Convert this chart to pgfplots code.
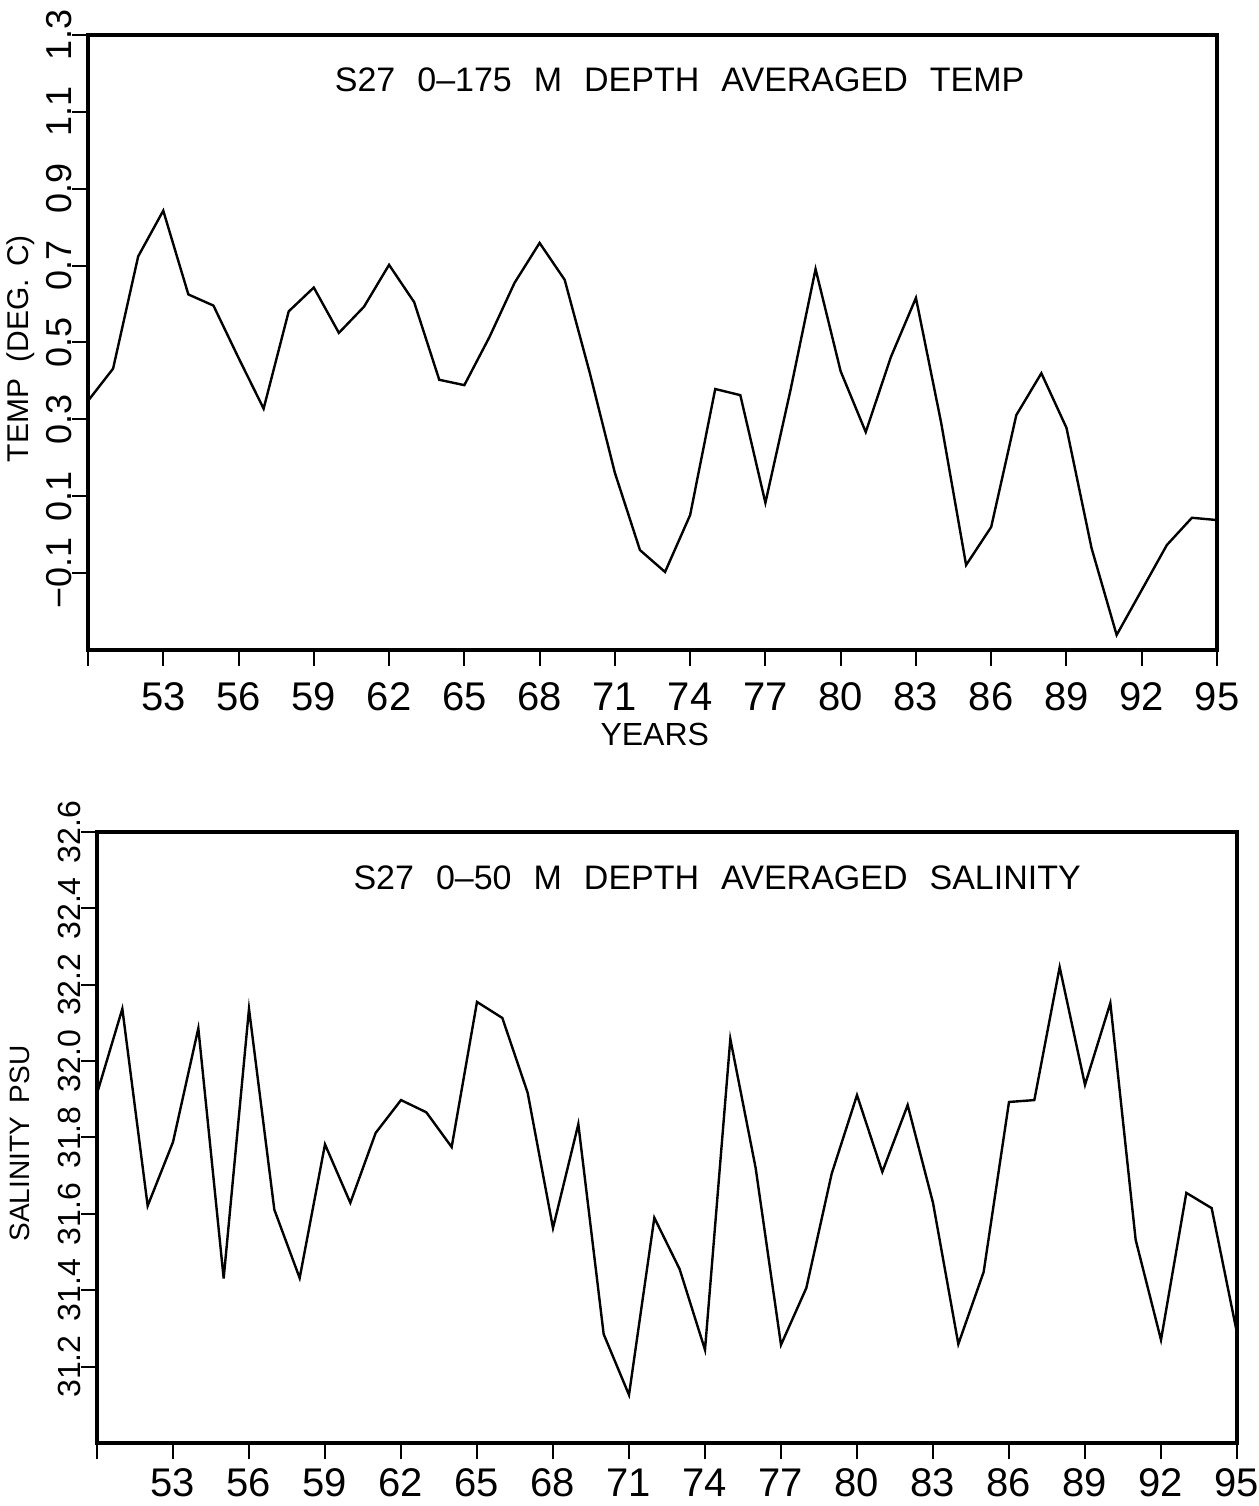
\documentclass[border=0pt]{standalone}
\usepackage{fontspec}
\setmainfont{Liberation Sans}
\usepackage{pgfplots}
\pgfplotsset{compat=1.18}

\pgfplotstableread{
year temp
50 0.348
51 0.432
52 0.724
53 0.843
54 0.625
55 0.596
56 0.46
57 0.328
58 0.581
59 0.643
60 0.525
61 0.593
62 0.702
63 0.605
64 0.403
65 0.389
66 0.514
67 0.655
68 0.759
69 0.663
70 0.421
71 0.161
72 -0.04
73 -0.097
74 0.051
75 0.379
76 0.363
77 0.083
78 0.376
79 0.691
80 0.425
81 0.267
82 0.462
83 0.616
84 0.293
85 -0.079
86 0.02
87 0.311
88 0.42
89 0.278
90 -0.035
91 -0.261
92 -0.144
93 -0.027
94 0.044
95 0.038
}\temptable

\pgfplotstableread{
year sal
50 31.915
51 32.137
52 31.621
53 31.788
54 32.086
55 31.431
56 32.137
57 31.611
58 31.432
59 31.782
60 31.629
61 31.812
62 31.898
63 31.866
64 31.775
65 32.155
66 32.113
67 31.917
68 31.563
69 31.835
70 31.285
71 31.126
72 31.59
73 31.455
74 31.244
75 32.058
76 31.72
77 31.257
78 31.406
79 31.705
80 31.911
81 31.71
82 31.885
83 31.629
84 31.259
85 31.448
86 31.893
87 31.898
88 32.246
89 31.938
90 32.152
91 31.532
92 31.27
93 31.655
94 31.615
95 31.288
}\saltable

\newcommand{\gap}{\hspace*{11pt}}

\pgfplotsset{
  mystyle/.style={
    scale only axis,
    xmin=50, xmax=95,
    xtick={50,53,56,59,62,65,68,71,74,77,80,83,86,89,92,95},
    xticklabels={,53,56,59,62,65,68,71,74,77,80,83,86,89,92,95},
    tick align=outside, xtick pos=bottom, ytick pos=left,
    major tick length=8pt,
    axis line style={line width=1.7pt},
    every tick/.style={line width=1pt, black},
    xticklabel style={font=\fontsize{20}{24}\selectfont, anchor=center},
    clip=false,
  }
}

\begin{document}
\begin{tikzpicture}[x=1pt,y=1pt]
\path[use as bounding box] (0,0) rectangle (629.5,753);

\begin{axis}[
  mystyle,
  at={(44pt,428pt)}, anchor=south west,
  width=564.5pt, height=307.5pt,
  ymin=-0.3, ymax=1.3,
  ytick={-0.1,0.1,0.3,0.5,0.7,0.9,1.1,1.3},
  yticklabels={−0.1,0.1,0.3,0.5,0.7,0.9,1.1,1.3},
  yticklabel style={font=\fontsize{18}{21}\selectfont, xshift=-6.5pt, rotate=90, anchor=center},
  xticklabel style={yshift=-15.5pt},
  xlabel={YEARS},
  xlabel style={at={(axis description cs:0.502,-0.138)}, anchor=center, font=\fontsize{16}{19}\selectfont},
  ylabel={TEMP\hspace*{4pt} (DEG.\hspace*{2pt} C)},
  ylabel style={at={(axis description cs:-0.060,0.49)}, anchor=center, rotate=0, font=\fontsize{15}{18}\selectfont},
  title={S27\gap 0–175\gap M\gap DEPTH\gap AVERAGED\gap TEMP},
  title style={at={(axis description cs:0.524,0.907)}, anchor=center, font=\fontsize{17}{20}\selectfont},
]
\addplot[black, line width=1.2pt, mark=none] table[x=year, y=temp] {\temptable};
\end{axis}

\begin{axis}[
  mystyle,
  at={(48.5pt,31.5pt)}, anchor=south west,
  width=570pt, height=305.5pt,
  ymin=31.0, ymax=32.6,
  ytick={31.2,31.4,31.6,31.8,32.0,32.2,32.4,32.6},
  yticklabels={31.2,31.4,31.6,31.8,32.0,32.2,32.4,32.6},
  yticklabel style={font=\fontsize{16}{19}\selectfont, xshift=-6pt, rotate=90, anchor=center},
  xticklabel style={yshift=-12pt},
  ylabel={SALINITY\hspace*{3pt} PSU},
  ylabel style={at={(axis description cs:-0.0675,0.49)}, anchor=center, rotate=0, font=\fontsize{14}{17}\selectfont},
  title={S27\gap 0–50\gap M\gap DEPTH\gap AVERAGED\gap SALINITY},
  title style={at={(axis description cs:0.544,0.905)}, anchor=center, font=\fontsize{17}{20}\selectfont},
]
\addplot[black, line width=1.2pt, mark=none] table[x=year, y=sal] {\saltable};
\end{axis}
\end{tikzpicture}
\end{document}
